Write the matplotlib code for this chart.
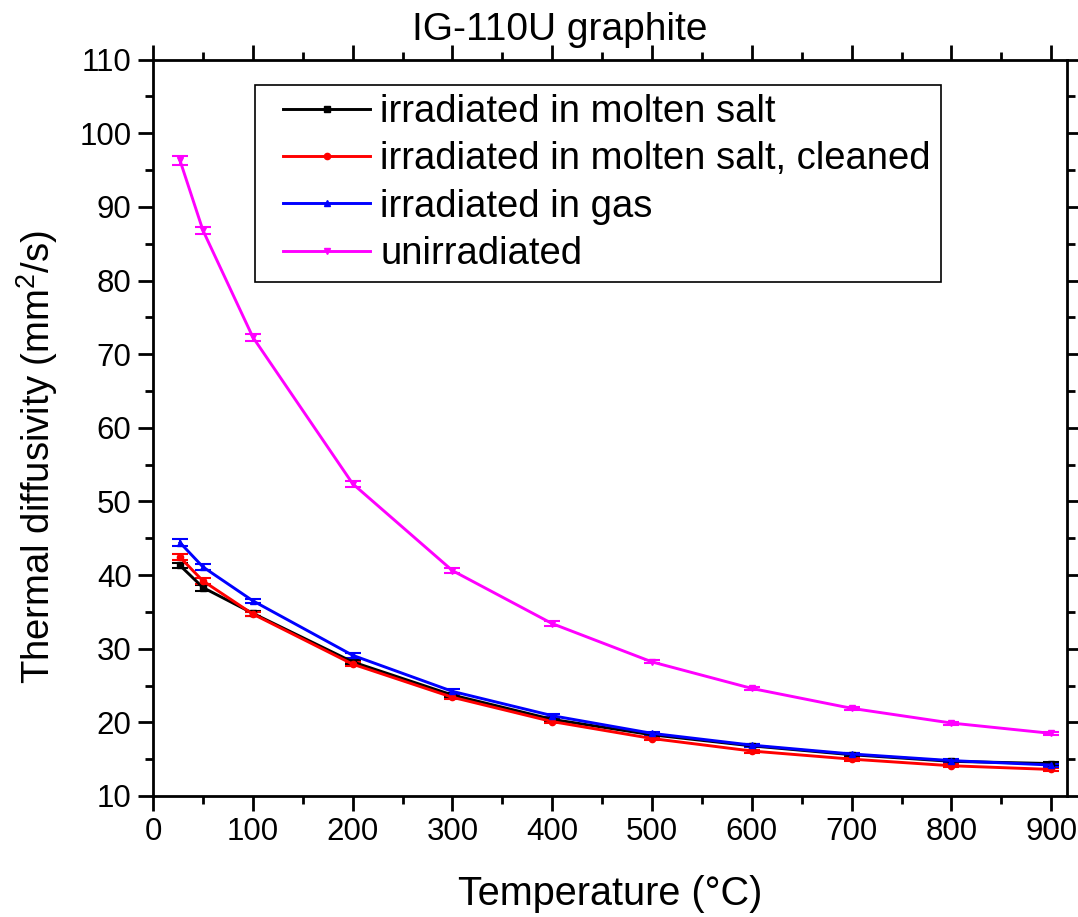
import matplotlib
matplotlib.use("Agg")
import matplotlib.pyplot as plt
from matplotlib.lines import Line2D
from matplotlib.legend_handler import HandlerLine2D
from matplotlib.ticker import MultipleLocator

plt.rcParams["font.family"] = ["Liberation Sans", "DejaVu Sans"]
plt.rcParams["mathtext.fontset"] = "custom"
plt.rcParams["mathtext.rm"] = "Liberation Sans"
plt.rcParams["mathtext.it"] = "Liberation Sans:italic"

# data
temperature = [27, 50, 100, 200, 300, 400, 500, 600, 700, 800, 900]

salt = [41.3, 38.3, 34.8, 28.2, 23.7, 20.4, 18.3, 16.8, 15.6, 14.7, 14.4]
salt_err = [0.4, 0.4, 0.3, 0.3, 0.3, 0.2, 0.2, 0.2, 0.2, 0.2, 0.2]

salt_clean = [42.4, 39.2, 34.7, 27.9, 23.4, 20.1, 17.8, 16.1, 15.0, 14.1, 13.6]
salt_clean_err = [0.4, 0.4, 0.3, 0.3, 0.3, 0.2, 0.2, 0.2, 0.2, 0.2, 0.2]

gas = [44.4, 41.1, 36.5, 29.1, 24.2, 20.9, 18.5, 16.9, 15.7, 14.8, 14.2]
gas_err = [0.5, 0.4, 0.3, 0.3, 0.3, 0.2, 0.2, 0.2, 0.2, 0.2, 0.2]

unirr = [96.3, 86.8, 72.3, 52.4, 40.6, 33.4, 28.2, 24.6, 21.9, 19.9, 18.5]
unirr_err = [0.6, 0.5, 0.5, 0.4, 0.3, 0.3, 0.2, 0.2, 0.2, 0.2, 0.2]

labels = ["irradiated in molten salt", "irradiated in molten salt, cleaned",
          "irradiated in gas", "unirradiated"]

fig = plt.figure(figsize=(10.78, 9.17), dpi=100)
ax = fig.add_axes([0.142, 0.132, 0.848, 0.803])

series = [
    (salt, salt_err, "black", "s"),
    (salt_clean, salt_clean_err, "red", "o"),
    (gas, gas_err, "blue", "^"),
    (unirr, unirr_err, "magenta", "v"),
]
handles = []
for (vals, err, col, mk), lab in zip(series, labels):
    ax.errorbar(temperature, vals, yerr=err, color=col, marker=mk, markersize=4.5,
                linewidth=2.1, capsize=5.5, capthick=1.5, elinewidth=1.5)
    handles.append(Line2D([], [], color=col, marker=mk, markersize=4.5,
                          linewidth=2.1, label=lab))

ax.set_xlim(0, 916)
ax.set_ylim(10, 110)
ax.xaxis.set_major_locator(MultipleLocator(100))
ax.xaxis.set_minor_locator(MultipleLocator(50))
ax.yaxis.set_major_locator(MultipleLocator(10))
ax.yaxis.set_minor_locator(MultipleLocator(5))

ax.tick_params(which="both", direction="out", top=True, right=True, width=2,
               labelsize=22.5)
ax.tick_params(which="major", length=10.5, pad=5)
ax.tick_params(which="minor", length=5.5)
for sp in ax.spines.values():
    sp.set_linewidth(2)

ax.set_xlabel("Temperature (°C)", fontsize=28.5, labelpad=20)
ax.set_ylabel(r"Thermal diffusivity (mm$^2$/s)", fontsize=27.5)
ax.yaxis.set_label_coords(-0.102, 0.46)
ax.set_title("IG-110U graphite", fontsize=28, pad=14, x=0.445)

# origin-style legend: extra room left of the handle lines
leg = ax.legend(handles=handles, loc="upper left", bbox_to_anchor=(0.112, 0.966),
                borderaxespad=0, fontsize=27.5, handlelength=2.76,
                handletextpad=0.26, labelspacing=0.296, borderpad=0.25,
                fancybox=False, framealpha=1, edgecolor="black",
                handler_map={Line2D: HandlerLine2D(xpad=0.46)})
leg.get_frame().set_linewidth(1.2)

plt.savefig("out.png", dpi=100)
